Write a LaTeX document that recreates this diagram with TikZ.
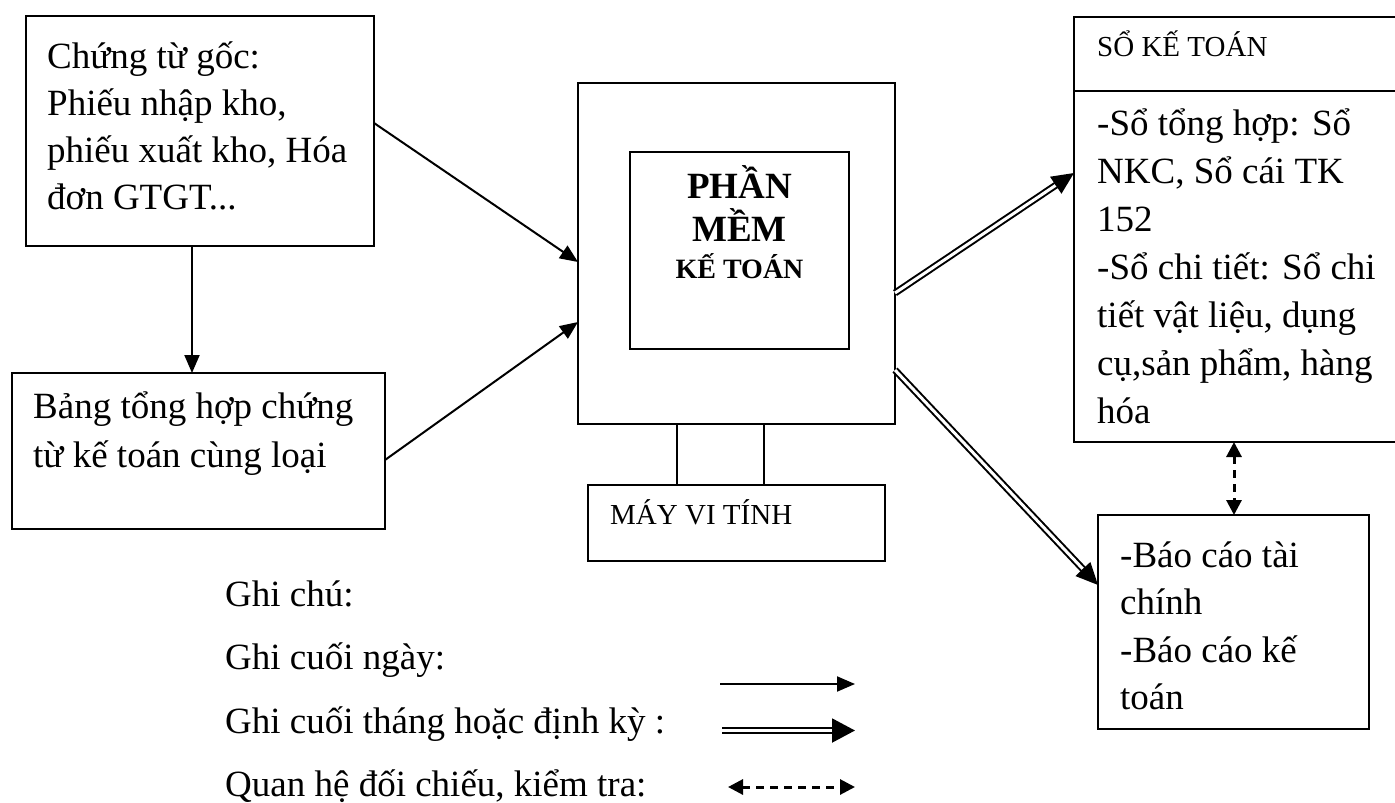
\documentclass[tikz,border=0pt]{standalone}
\usepackage{fontspec}
\setmainfont{Liberation Serif}
\usetikzlibrary{arrows.meta,calc}

\newcommand\trailingdots{...}

\tikzset{
  box/.style={draw, line width=2pt, inner sep=0pt, outer sep=0pt, anchor=north west},
  txt/.style={inner sep=0pt, anchor=base west, font=\fontsize{37}{44}\selectfont},
  small/.style={inner sep=0pt, anchor=base west, font=\fontsize{29}{35}\selectfont},
  title/.style={inner sep=0pt, anchor=base, font=\bfseries\fontsize{37}{44}\selectfont},
  arr/.style={line width=2pt, -{Triangle[length=18pt,width=15pt]}},
  dbl/.style={double, double distance=3pt, line width=2pt},
  dblhead/.style={line width=2pt, -{Triangle[length=22pt,width=20pt]}},
  dsh/.style={line width=3pt, dash pattern=on 8pt off 6pt,
    {Triangle[length=15pt,width=15pt]}-{Triangle[length=15pt,width=15pt]}},
}

\begin{document}
\begin{tikzpicture}[x=1pt, y=-1pt]
\clip (0,0) rectangle (1395,803);

% boxes
\node[box, minimum width=348pt, minimum height=230pt] (A) at (26,16) {};
\node[box, minimum width=373pt, minimum height=156pt] (B) at (12,373) {};
\node[box, minimum width=317pt, minimum height=341pt] (C) at (578,83) {};
\node[box, minimum width=219pt, minimum height=197pt] (I) at (630,152) {};
\node[box, minimum width=297pt, minimum height=76pt] (M) at (588,485) {};
\node[box, minimum width=360pt, minimum height=425pt] (S) at (1074,17) {};
\node[box, minimum width=271pt, minimum height=214pt] (R) at (1098,515) {};
\draw[line width=2pt] ($(S.north west)+(0,74)$) -- ($(S.north east)+(0,74)$);

% texts in the boxes
\foreach \t [count=\i from 0] in {{Chứng từ gốc:}, {Phiếu nhập kho,}, {phiếu xuất kho, Hóa}, {đơn GTGT\trailingdots}}
  \node[txt] (ta\i) at (47,68+47.3*\i) {\t};
\foreach \t [count=\i from 0] in {{Bảng tổng hợp chứng}, {từ kế toán cùng loại}}
  \node[txt] (tb\i) at (33,418+49.5*\i) {\t};
\node[title] (t1) at (739.5,198) {PHẦN};
\node[title] (t2) at (739.5,241) {MỀM};
\node[title, font=\bfseries\fontsize{28}{34}\selectfont] (t3) at (739.5,278) {KẾ TOÁN};
\node[small] (tm) at (610,524) {MÁY VI TÍNH};
\node[small] (ts) at (1097,56) {SỔ KẾ TOÁN};
\foreach \t [count=\i from 0] in {{-Sổ tổng hợp: Sổ}, {NKC, Sổ cái TK}, {152}, {-Sổ chi tiết: Sổ chi}, {tiết vật liệu, dụng}, {cụ,sản phẩm, hàng}, {hóa}}
  \node[txt] (tsk\i) at (1097,135+48*\i) {\t};
\foreach \t [count=\i from 0] in {{-Báo cáo tài}, {chính}, {-Báo cáo kế}, {toán}}
  \node[txt] (tr\i) at (1120,567+47.5*\i) {\t};

% computer legs
\draw[line width=2pt] ($(C.south west)+(99,0)$) -- ($(M.north west)+(89,0)$);
\draw[line width=2pt] ($(C.south west)+(186,0)$) -- ($(M.north west)+(176,0)$);

% daily flows
\draw[arr] ($(A.south west)+(166,0)$) -- ($(B.north west)+(180,0)$);
\draw[arr] ($(A.north east)+(0,107)$) -- ($(C.north west)+(0,179)$);
\draw[arr] ($(B.north east)+(0,87)$) -- ($(C.north west)+(0,239)$);

% periodic flows
\coordinate (p1) at ($(C.north east)+(0,210)$);
\coordinate (q1) at ($(S.north west)+(0,156)$);
\draw[dbl, shorten >=19pt] (p1) -- (q1);
\draw[dblhead] ($(q1)!22pt!(p1)$) -- (q1);
\coordinate (p2) at ($(C.north east)+(0,287)$);
\coordinate (q2) at ($(R.north west)+(0,70)$);
\draw[dbl, shorten >=19pt] (p2) -- (q2);
\draw[dblhead] ($(q2)!22pt!(p2)$) -- (q2);

% cross-check
\draw[dsh] ($(S.south west)+(160,0)$) -- ($(R.north west)+(136,0)$);

% legend
\foreach \t [count=\i from 0] in {{Ghi chú:}, {Ghi cuối ngày:}, {Ghi cuối tháng hoặc định kỳ :}, {Quan hệ đối chiếu, kiểm tra:}}
  \node[txt] (tl\i) at (225,606+63.5*\i) {\t};
\coordinate (l1a) at (720,684);
\coordinate (l1b) at (855,684);
\draw[arr] (l1a) -- (l1b);
\coordinate (l2a) at (722,730.5);
\coordinate (l2b) at (855,730.5);
\draw[dbl, shorten >=19pt] (l2a) -- (l2b);
\draw[dblhead, -{Triangle[length=23pt,width=24pt]}] ($(l2b)!23pt!(l2a)$) -- (l2b);
\coordinate (l3a) at (728,787);
\coordinate (l3b) at (855,787);
\draw[dsh] (l3a) -- (l3b);
\end{tikzpicture}
\end{document}
